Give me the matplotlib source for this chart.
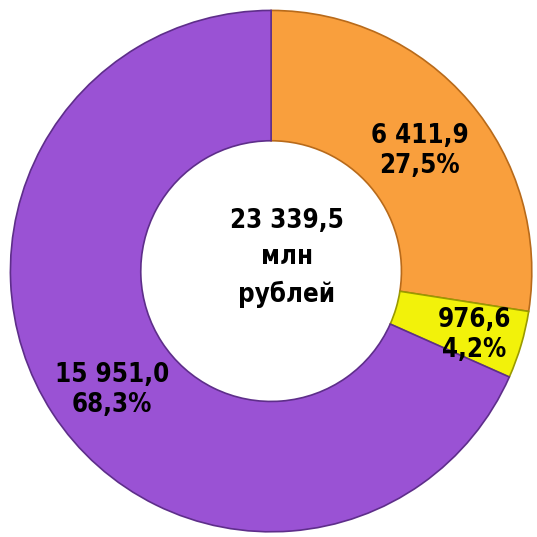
import matplotlib.pyplot as plt

values = [6411.9, 976.6, 15951.0]
labels = ["6 411,9\n27,5%", "976,6\n4,2%", "15 951,0\n68,3%"]
colors = ["#F99F3D", "#F2F20A", "#9A52D4"]
edges = ["#B86A1A", "#9A9A00", "#5E2E8A"]
total_text = "23 339,5\nмлн\nрублей"

fam = ["DejaVu Sans"]

fig = plt.figure(figsize=(5.37, 5.37), dpi=100)
ax = fig.add_axes([0.0, 0.0, 1.0, 1.0])

wedges, _ = ax.pie(values, colors=colors, startangle=90, counterclock=False,
                   radius=1.0, wedgeprops=dict(width=0.5, linewidth=1.2))
for w, ec in zip(wedges, edges):
    w.set_edgecolor(ec)

label_pos = [(0.57, 0.46), (0.78, -0.245), (-0.61, -0.455)]
for (x, y), t in zip(label_pos, labels):
    ax.text(x, y, t, ha="center", va="center", fontsize=18.5, fontweight="bold",
            family=fam, fontstretch="condensed", linespacing=1.2)

ax.text(0.06, 0.05, total_text, ha="center", va="center", fontsize=18.5,
        fontweight="bold", family=fam, fontstretch="condensed", linespacing=1.5)

ax.set_xlim(-1.04, 1.02)
ax.set_ylim(-1.02, 1.04)
ax.set_aspect("equal")
ax.axis("off")

fig.savefig("out.png", dpi=100)
